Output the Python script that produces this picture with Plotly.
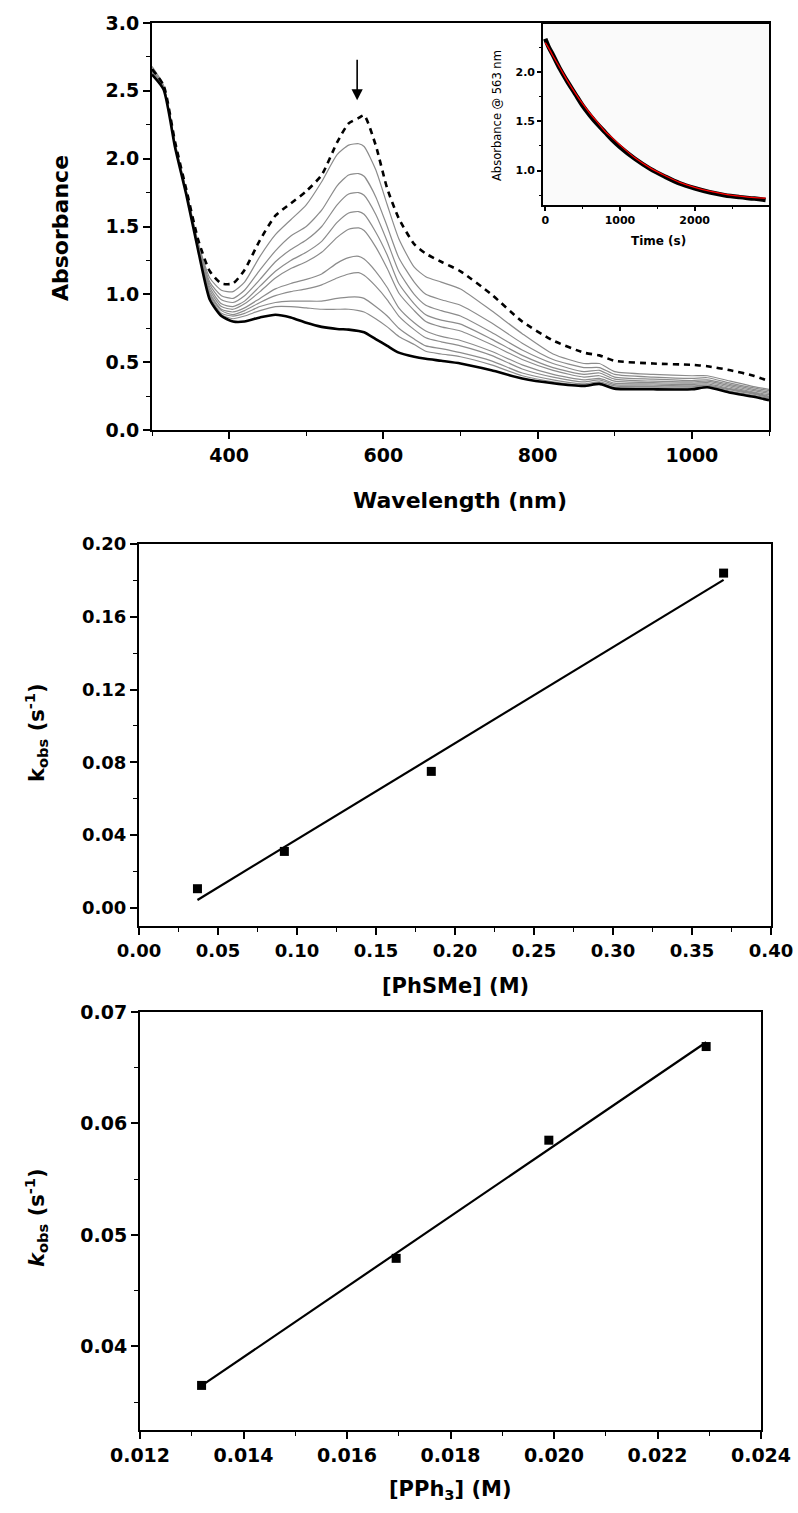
import numpy as np
import plotly.graph_objects as go

W, H = 798, 1513

# ---------------- Panel 1: UV-vis spectra ----------------
wavelength = [300, 315, 330, 345, 360, 375, 390, 405, 420, 440, 460, 480, 500, 520, 540, 555, 568, 575,
              590, 605, 620, 640, 655, 675, 700, 740, 780, 820, 860, 880, 900, 950, 1000, 1020, 1050, 1080, 1100]

spec_initial = [2.66, 2.54, 2.12, 1.76, 1.40, 1.17, 1.08, 1.08, 1.18, 1.40, 1.58, 1.67, 1.76, 1.88, 2.12, 2.26, 2.30, 2.32,
                2.10, 1.78, 1.56, 1.37, 1.30, 1.24, 1.17, 1.00, 0.80, 0.66, 0.57, 0.55, 0.51, 0.49, 0.48, 0.47, 0.44, 0.40, 0.36]
spec_g1 = [2.68, 2.54, 2.11, 1.75, 1.38, 1.12, 1.03, 1.02, 1.09, 1.28, 1.44, 1.55, 1.66, 1.83, 2.03, 2.10, 2.11, 2.09,
           1.92, 1.66, 1.41, 1.20, 1.13, 1.09, 1.04, 0.88, 0.71, 0.56, 0.49, 0.49, 0.43, 0.41, 0.40, 0.40, 0.36, 0.32, 0.30]
spec_g2 = [2.66, 2.53, 2.11, 1.75, 1.37, 1.09, 0.99, 0.97, 1.03, 1.18, 1.32, 1.43, 1.50, 1.62, 1.80, 1.88, 1.89, 1.87,
           1.72, 1.50, 1.27, 1.09, 1.00, 0.96, 0.92, 0.79, 0.64, 0.52, 0.46, 0.46, 0.41, 0.39, 0.38, 0.385, 0.345, 0.31, 0.29]
spec_g3 = [2.65, 2.53, 2.10, 1.74, 1.36, 1.07, 0.96, 0.94, 0.99, 1.11, 1.24, 1.33, 1.40, 1.50, 1.66, 1.74, 1.75, 1.73,
           1.59, 1.39, 1.17, 1.00, 0.92, 0.88, 0.84, 0.72, 0.59, 0.49, 0.43, 0.44, 0.39, 0.375, 0.365, 0.37, 0.335, 0.30, 0.28]
spec_g4 = [2.64, 2.53, 2.10, 1.74, 1.36, 1.05, 0.93, 0.91, 0.95, 1.06, 1.17, 1.25, 1.31, 1.39, 1.53, 1.60, 1.61, 1.59,
           1.46, 1.29, 1.08, 0.93, 0.85, 0.81, 0.78, 0.67, 0.55, 0.46, 0.41, 0.42, 0.375, 0.36, 0.355, 0.36, 0.325, 0.29, 0.27]
spec_g5 = [2.64, 2.52, 2.10, 1.74, 1.35, 1.03, 0.91, 0.89, 0.93, 1.02, 1.12, 1.19, 1.24, 1.31, 1.42, 1.48, 1.49, 1.47,
           1.35, 1.19, 1.01, 0.88, 0.80, 0.76, 0.73, 0.63, 0.52, 0.44, 0.39, 0.40, 0.36, 0.35, 0.345, 0.35, 0.315, 0.28, 0.26]
spec_g6 = [2.63, 2.52, 2.09, 1.73, 1.35, 1.01, 0.89, 0.87, 0.90, 0.97, 1.04, 1.08, 1.11, 1.15, 1.23, 1.27, 1.28, 1.26,
           1.17, 1.05, 0.90, 0.79, 0.73, 0.69, 0.66, 0.58, 0.48, 0.41, 0.37, 0.38, 0.345, 0.34, 0.335, 0.34, 0.305, 0.275, 0.25]
spec_g7 = [2.63, 2.52, 2.09, 1.73, 1.34, 1.00, 0.88, 0.85, 0.88, 0.94, 0.99, 1.02, 1.04, 1.07, 1.12, 1.15, 1.16, 1.14,
           1.06, 0.96, 0.84, 0.74, 0.68, 0.65, 0.62, 0.55, 0.45, 0.39, 0.355, 0.37, 0.335, 0.33, 0.325, 0.33, 0.30, 0.27, 0.245]
spec_g8 = [2.62, 2.52, 2.09, 1.73, 1.34, 0.99, 0.86, 0.84, 0.86, 0.91, 0.94, 0.95, 0.95, 0.95, 0.97, 0.98, 0.98, 0.97,
           0.91, 0.84, 0.75, 0.67, 0.62, 0.60, 0.57, 0.51, 0.42, 0.37, 0.34, 0.355, 0.325, 0.32, 0.318, 0.325, 0.295, 0.265, 0.24]
spec_g9 = [2.62, 2.52, 2.08, 1.73, 1.33, 0.98, 0.85, 0.82, 0.84, 0.88, 0.91, 0.91, 0.90, 0.89, 0.89, 0.89, 0.88, 0.87,
           0.82, 0.76, 0.69, 0.63, 0.58, 0.56, 0.54, 0.48, 0.40, 0.355, 0.33, 0.345, 0.315, 0.31, 0.31, 0.32, 0.285, 0.255, 0.235]
spec_final = [2.62, 2.51, 2.08, 1.72, 1.32, 0.96, 0.84, 0.80, 0.80, 0.83, 0.85, 0.83, 0.79, 0.76, 0.745, 0.74, 0.73, 0.72,
              0.67, 0.62, 0.57, 0.54, 0.525, 0.51, 0.49, 0.44, 0.38, 0.345, 0.325, 0.34, 0.305, 0.30, 0.30, 0.315, 0.275, 0.245, 0.22]
spec_intermediate = [spec_g1, spec_g2, spec_g3, spec_g4, spec_g5, spec_g6, spec_g7, spec_g8, spec_g9]

# ---------------- Inset: kinetic trace at 563 nm ----------------
time_s = [0, 50, 100, 200, 300, 400, 500, 600, 700, 800, 900, 1000, 1200, 1400, 1600, 1800, 2000, 2200, 2400, 2600, 2800, 2950]
abs_563 = [2.34, 2.25, 2.18, 2.03, 1.90, 1.78, 1.66, 1.56, 1.47, 1.39, 1.31, 1.24, 1.12, 1.02, 0.94, 0.87, 0.82, 0.78, 0.75, 0.73, 0.715, 0.70]
abs_563_fit = [2.30, 2.24, 2.17, 2.04, 1.91, 1.79, 1.68, 1.58, 1.49, 1.40, 1.33, 1.26, 1.13, 1.03, 0.95, 0.88, 0.83, 0.79, 0.76, 0.74, 0.725, 0.72]

# ---------------- Panel 2: kobs vs [PhSMe] ----------------
phsme_M = [0.037, 0.092, 0.185, 0.370]
kobs_phsme = [0.0105, 0.031, 0.075, 0.184]

# ---------------- Panel 3: kobs vs [PPh3] ----------------
pph3_M = [0.01319, 0.01695, 0.01990, 0.02294]
kobs_pph3 = [0.0365, 0.0479, 0.0585, 0.0669]

FONT = "DejaVu Sans"


def fx(px):
    return px / W


def fy(py):
    return 1 - py / H


fig = go.Figure()

# spectra
for s in spec_intermediate:
    fig.add_trace(go.Scatter(x=wavelength, y=s, mode="lines", line=dict(color="#8c8c8c", width=1.2, shape="spline", smoothing=0.6),
                             xaxis="x", yaxis="y", showlegend=False))
fig.add_trace(go.Scatter(x=wavelength, y=spec_final, mode="lines", line=dict(color="black", width=2.6, shape="spline", smoothing=0.6),
                         xaxis="x", yaxis="y", showlegend=False))
fig.add_trace(go.Scatter(x=wavelength, y=spec_initial, mode="lines",
                         line=dict(color="black", width=2.6, dash="6px,5px", shape="spline", smoothing=0.6),
                         xaxis="x", yaxis="y", showlegend=False))

# inset
fig.add_trace(go.Scatter(x=time_s, y=abs_563, mode="lines", line=dict(color="black", width=4.5, shape="spline"),
                         xaxis="x2", yaxis="y2", showlegend=False))
fig.add_trace(go.Scatter(x=time_s, y=abs_563_fit, mode="lines", line=dict(color="red", width=1.3, shape="spline"),
                         xaxis="x2", yaxis="y2", showlegend=False))

# panel 2
c2 = np.polyfit(phsme_M, kobs_phsme, 1)
x2fit = [min(phsme_M), max(phsme_M)]
fig.add_trace(go.Scatter(x=x2fit, y=list(np.polyval(c2, x2fit)), mode="lines", line=dict(color="black", width=2.2),
                         xaxis="x3", yaxis="y3", showlegend=False))
fig.add_trace(go.Scatter(x=phsme_M, y=kobs_phsme, mode="markers", marker=dict(symbol="square", size=9, color="black"),
                         xaxis="x3", yaxis="y3", showlegend=False))

# panel 3
c3 = np.polyfit(pph3_M, kobs_pph3, 1)
x3fit = [min(pph3_M), max(pph3_M)]
fig.add_trace(go.Scatter(x=x3fit, y=list(np.polyval(c3, x3fit)), mode="lines", line=dict(color="black", width=2.2),
                         xaxis="x4", yaxis="y4", showlegend=False))
fig.add_trace(go.Scatter(x=pph3_M, y=kobs_pph3, mode="markers", marker=dict(symbol="square", size=9, color="black"),
                         xaxis="x4", yaxis="y4", showlegend=False))


def ax(domain, rng, dtick, fmt, minor_dtick, anchor, tsize, lw=2, ticklen=7, minlen=4, tick0=None):
    d = dict(domain=domain, range=rng, dtick=dtick, tickformat=fmt, anchor=anchor, automargin=False,
             showline=True, linecolor="black", linewidth=lw, mirror=True,
             ticks="outside", ticklen=ticklen, tickwidth=1.6, tickcolor="black",
             showgrid=False, zeroline=False,
             tickfont=dict(family=FONT, size=tsize, color="black", weight="bold"),
             minor=dict(dtick=minor_dtick, ticks="outside", ticklen=minlen, tickwidth=1.4, tickcolor="black", showgrid=False))
    if tick0 is not None:
        d["tick0"] = tick0
    return d


# pixel boxes
P1 = (152, 769, 23, 430)
IN = (543, 769, 24, 205)
P2 = (139, 771, 544, 926)
P3 = (140, 761, 1012, 1430)

fig.update_layout(
    width=W, height=H, margin=dict(l=0, r=0, t=0, b=0, autoexpand=False),
    paper_bgcolor="white", plot_bgcolor="rgba(0,0,0,0)",
    font=dict(family=FONT, color="black"),
    xaxis=ax([fx(P1[0]), fx(P1[1])], [300, 1100], 200, "d", 100, "y", 19, tick0=400),
    yaxis=ax([fy(P1[3]), fy(P1[2])], [0, 3.0], 0.5, ".1f", 0.25, "x", 19),
    xaxis2=ax([fx(IN[0]), fx(IN[1])], [-30, 2995], 1000, "d", 500, "y2", 11, lw=1.6, ticklen=4, minlen=2.5),
    yaxis2=ax([fy(IN[3]), fy(IN[2])], [0.65, 2.49], 0.5, ".1f", 0.25, "x2", 11, lw=1.6, ticklen=4, minlen=2.5),
    xaxis3=ax([fx(P2[0]), fx(P2[1])], [0, 0.40], 0.05, ".2f", 0.025, "y3", 18),
    yaxis3=ax([fy(P2[3]), fy(P2[2])], [-0.01, 0.20], 0.04, ".2f", 0.02, "x3", 18, tick0=0),
    xaxis4=ax([fx(P3[0]), fx(P3[1])], [0.012, 0.024], 0.002, ".3f", 0.001, "y4", 19, tick0=0.012),
    yaxis4=ax([fy(P3[3]), fy(P3[2])], [0.0325, 0.07], 0.01, ".2f", 0.005, "x4", 19, tick0=0.04),
)

# inset background
fig.add_shape(type="rect", xref="paper", yref="paper", x0=fx(IN[0]), x1=fx(IN[1]), y0=fy(IN[3]), y1=fy(IN[2]),
              fillcolor="#fafafa", line=dict(width=0), layer="below")

# arrow in panel 1
fig.add_annotation(x=566, y=2.43, ax=566, ay=2.74, xref="x", yref="y", axref="x", ayref="y",
                   showarrow=True, arrowhead=2, arrowsize=1.4, arrowwidth=1.6, arrowcolor="black", text="")


def title(text, px, py, size, angle=0, weight="bold"):
    fig.add_annotation(x=fx(px), y=fy(py), xref="paper", yref="paper", text=text, showarrow=False,
                       textangle=angle, xanchor="center", yanchor="middle",
                       font=dict(family=FONT, size=size, color="black", weight=weight))


title("Absorbance", 60, 228, 22, -90)
title("Wavelength (nm)", 460, 500, 22)
title("Absorbance @ 563 nm", 497, 116, 11.5, -90, weight="normal")
title("Time (s)", 658, 241, 12)
title("k<sub>obs</sub> (s<sup>-1</sup>)", 36, 733, 21, -90)
title("[PhSMe] (M)", 455, 986, 21)
title("<i>k</i><sub>obs</sub> (s<sup>-1</sup>)", 36, 1218, 21, -90)
title("[PPh<sub>3</sub>] (M)", 450, 1490, 21)

fig.write_html("out.html", config={"displayModeBar": False},
               post_script="document.body.style.margin='0px';document.body.style.overflow='hidden';")
